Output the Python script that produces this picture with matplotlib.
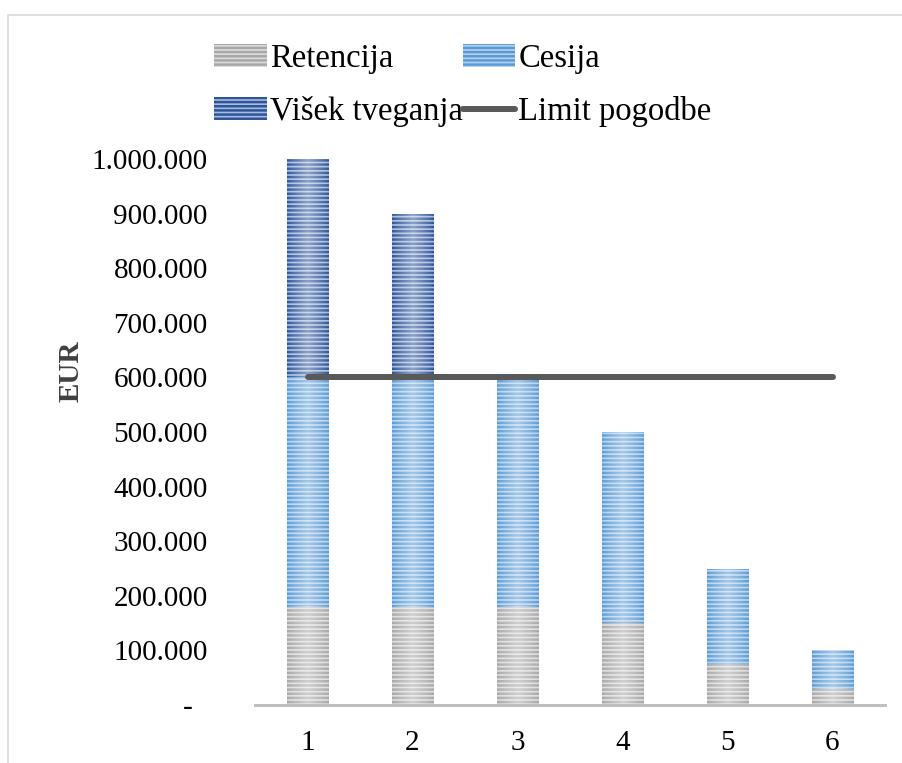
import matplotlib
matplotlib.use("Agg")
import matplotlib.pyplot as plt
from matplotlib.ticker import FuncFormatter
from matplotlib.patches import Rectangle
import numpy as np

plt.rcParams['font.family'] = ['Liberation Serif', 'DejaVu Serif']
plt.rcParams['hatch.linewidth'] = 1.8

categories = [1, 2, 3, 4, 5, 6]
retencija = [180000, 180000, 180000, 150000, 75000, 30000]
cesija = [420000, 420000, 420000, 350000, 175000, 70000]
visek = [400000, 300000, 0, 0, 0, 0]
limit_pogodbe = [600000, 600000, 600000, 600000, 600000, 600000]
y_ticks = [0, 100000, 200000, 300000, 400000, 500000, 600000, 700000, 800000, 900000, 1000000]

W, H = 903, 763
fig = plt.figure(figsize=(W / 100, H / 100), dpi=100)
ax = fig.add_axes([255 / W, (H - 705) / H, 630 / W, 546 / H])

# outer chart frame
fig.patches.append(Rectangle((8 / W, -0.05), 1.2, (H - 15) / H + 0.05,
                             transform=fig.transFigure, fill=False,
                             edgecolor='#d9d9d9', linewidth=1.2))

x = np.array(categories)
width = 0.4
bottom2 = np.array(retencija)
bottom3 = bottom2 + np.array(cesija)

b1 = ax.bar(x, retencija, width, color='#dcdcdc', edgecolor='#a8a8a8',
            hatch='----', linewidth=0, label='Retencija', zorder=2)
b2 = ax.bar(x, cesija, width, bottom=bottom2, color='#b4d2f0', edgecolor='#5b9bd5',
            hatch='----', linewidth=0, label='Cesija', zorder=2)
b3 = ax.bar(x, visek, width, bottom=bottom3, color='#a6bbe0', edgecolor='#2f5597',
            hatch='----', linewidth=0, label='Višek tveganja', zorder=2)

# soft highlight across each bar (lighter in the middle, darker at the sides)
t = np.linspace(0, 1, 64)
shine = np.zeros((1, t.size, 4))
shine[..., :3] = 1.0
shine[0, :, 3] = 0.45 * (1 - np.abs(2 * t - 1)) ** 0.8
for container in (b1, b2, b3):
    for p in container.patches:
        if p.get_height() <= 0:
            continue
        ax.imshow(shine, extent=[p.get_x(), p.get_x() + p.get_width(),
                                 p.get_y(), p.get_y() + p.get_height()],
                  aspect='auto', interpolation='bilinear', zorder=2.5)

ln, = ax.plot(x, limit_pogodbe, color='#595959', linewidth=4.3,
              solid_capstyle='round', label='Limit pogodbe', zorder=3)

ax.set_xlim(0.5, 6.5)
ax.set_ylim(0, 1000000)
ax.set_yticks(y_ticks)
ax.set_xticks(categories)


def fmt(v, pos):
    if v == 0:
        return '-\u2007'
    return f'{int(v):,}'.replace(',', '.')


ax.yaxis.set_major_formatter(FuncFormatter(fmt))
ax.tick_params(axis='y', length=0, pad=34, labelsize=21)
ax.tick_params(axis='x', length=0, pad=18, labelsize=21)

for s in ['top', 'right', 'left']:
    ax.spines[s].set_visible(False)
ax.spines['bottom'].set_color('#bfbfbf')
ax.spines['bottom'].set_linewidth(2.2)
ax.spines['bottom'].set_zorder(4)

ax.set_ylabel('EUR', fontsize=21, fontweight='bold', color='#404040')
ax.yaxis.set_label_coords(-0.27, 0.611)

leg = fig.legend(handles=[b1, b3, b2, ln], ncol=2, loc='upper left',
                 bbox_to_anchor=(198 / W, 1 - 27 / H), frameon=False,
                 fontsize=23.5, handlelength=1.6, handletextpad=0.1,
                 columnspacing=0.0, labelspacing=0.68, borderpad=0)

fig.savefig('out.png', dpi=100)
